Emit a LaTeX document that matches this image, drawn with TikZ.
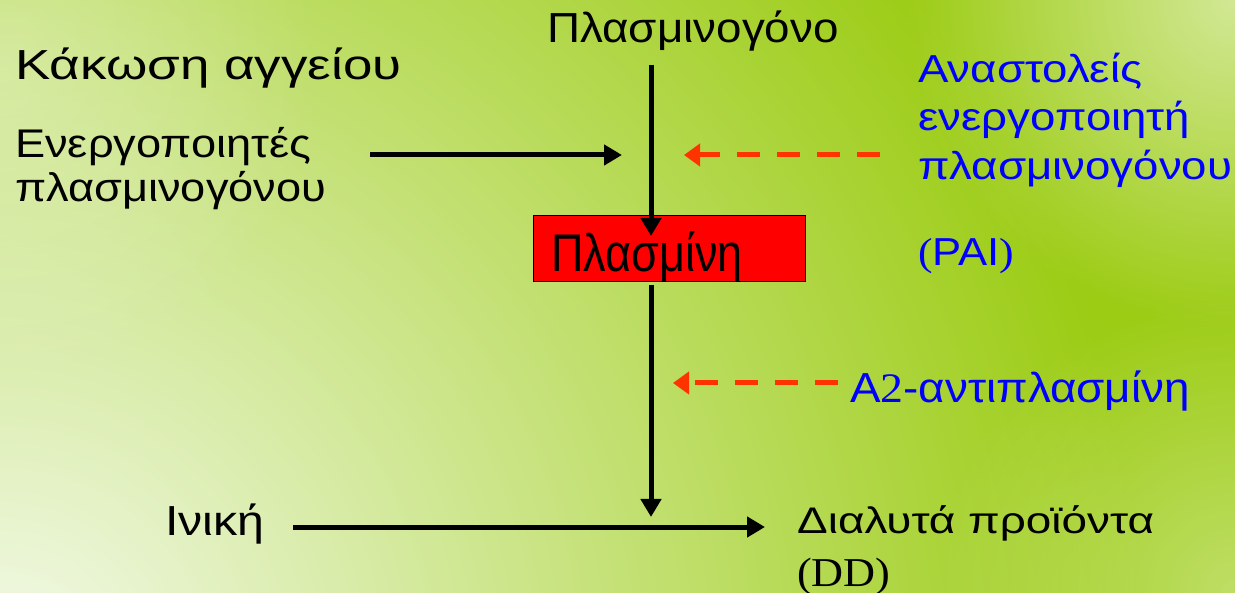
\documentclass[tikz,border=0pt]{standalone}
\usepackage{fontspec}
\setmainfont{Liberation Sans}
\newfontfamily\seriffont{Liberation Serif}
\usetikzlibrary{arrows.meta,fadings}
\definecolor{bglime}{HTML}{9CCC14}
\definecolor{bgpale}{HTML}{F4FAEC}
\definecolor{inhred}{HTML}{FF3300}
\definecolor{plasred}{HTML}{FF0000}
\definecolor{txtblue}{HTML}{0000FF}
\tikzfading[name=softglow, inner color=transparent!0, outer color=transparent!100]
% size, horizontal stretch
\newcommand{\lblfont}[2]{\fontsize{#1}{#1}\selectfont\addfontfeatures{FakeStretch=#2}}
\tikzset{
  lbl/.style={anchor=base west, inner sep=0pt},
  bluelbl/.style={lbl, text=txtblue},
  flow/.style={line width=5pt, -{Triangle[length=18pt,width=20pt]}},
  inhibit/.style={line width=5pt, inhred, dash pattern=on 23pt off 17pt, -{Triangle[length=16pt,width=22pt]}},
  enzyme/.style={draw=black, line width=1pt, fill=plasred, minimum width=272pt, minimum height=66pt, inner sep=0pt}
}
\begin{document}
\begin{tikzpicture}[x=1pt,y=-1pt]
% backdrop: lime field, pale towards the lower left
\useasboundingbox (0,0) rectangle (1235,593);
\fill[bglime] (0,0) rectangle (1235,593);
\begin{scope}
  \clip (0,0) rectangle (1235,593);
  \shade[inner color=bgpale, outer color=bglime] (0,680) circle (1150pt);
  \fill[white, opacity=0.55, path fading=softglow] (1235,0) circle (330pt);
  \fill[white, opacity=0.35, path fading=softglow] (1235,593) circle (300pt);
  \fill[white, opacity=0.3, path fading=softglow] (0,60) circle (320pt);
\end{scope}

% labels
\node[lbl, font=\lblfont{42}{1.26}] (injury) at (15,80) {Κάκωση αγγείου};
\node[lbl, font=\lblfont{40}{1.13}] (activators) at (15,158) {Ενεργοποιητές};
\node[lbl, font=\lblfont{40}{1.13}] (activators2) at (15,202) {πλασμινογόνου};
\node[lbl, anchor=base, font=\lblfont{42}{1.09}] (plasminogen) at (693,43) {Πλασμινογόνο};
\node[enzyme, anchor=north west] (plasmin) at (533,215) {};
\node[lbl, font=\lblfont{53}{0.85}] (plasminlbl) at (551,272) {Πλασμίνη};
\node[bluelbl, font=\lblfont{39}{1.17}] (pai1) at (918,83) {Αναστολείς};
\node[bluelbl, font=\lblfont{39}{1.17}] (pai2) at (918,131) {ενεργοποιητή};
\node[bluelbl, font=\lblfont{39}{1.17}] (pai3) at (918,180) {πλασμινογόνου};
\node[bluelbl, font=\lblfont{39}{1.12}] (paiabbr) at (918,266) {{\seriffont\addfontfeatures{FakeStretch=1.12}(}PAI{\seriffont\addfontfeatures{FakeStretch=1.12})}};
\node[bluelbl, font=\lblfont{42}{1.09}] (antiplasmin) at (850,403) {A{\seriffont\addfontfeatures{FakeStretch=1.09}2}-αντιπλασμίνη};
\node[lbl, font=\lblfont{42}{1.15}] (fibrin) at (165,535) {Ινική};
\node[lbl, font=\lblfont{37}{1.24}] (products) at (797,533) {Διαλυτά προϊόντα};
\node[lbl, font=\seriffont\lblfont{41}{1.08}] (dd) at (797,586) {(DD)};

% connector ends
\coordinate (actStart) at (370,155);
\coordinate (actEnd) at (622,155);
\coordinate (topStart) at (651,65);
\coordinate (topEnd) at (651,236);
\coordinate (lowStart) at (651,285);
\coordinate (lowEnd) at (651,517);
\coordinate (paiStart) at (880,155);
\coordinate (paiEnd) at (684,155);
\coordinate (apStart) at (838,383);
\coordinate (apEnd) at (673,383);
\coordinate (fibStart) at (293,527);
\coordinate (fibEnd) at (765,527);

% flow of the pathway
\draw[flow] (actStart) -- (actEnd);
\draw[flow] (topStart) -- (topEnd);
\draw[flow] (lowStart) -- (lowEnd);
\draw[flow] (fibStart) -- (fibEnd);
% inhibitors
\draw[inhibit] (paiStart) -- (paiEnd);
\draw[inhibit] (apStart) -- (apEnd);
\end{tikzpicture}
\end{document}
